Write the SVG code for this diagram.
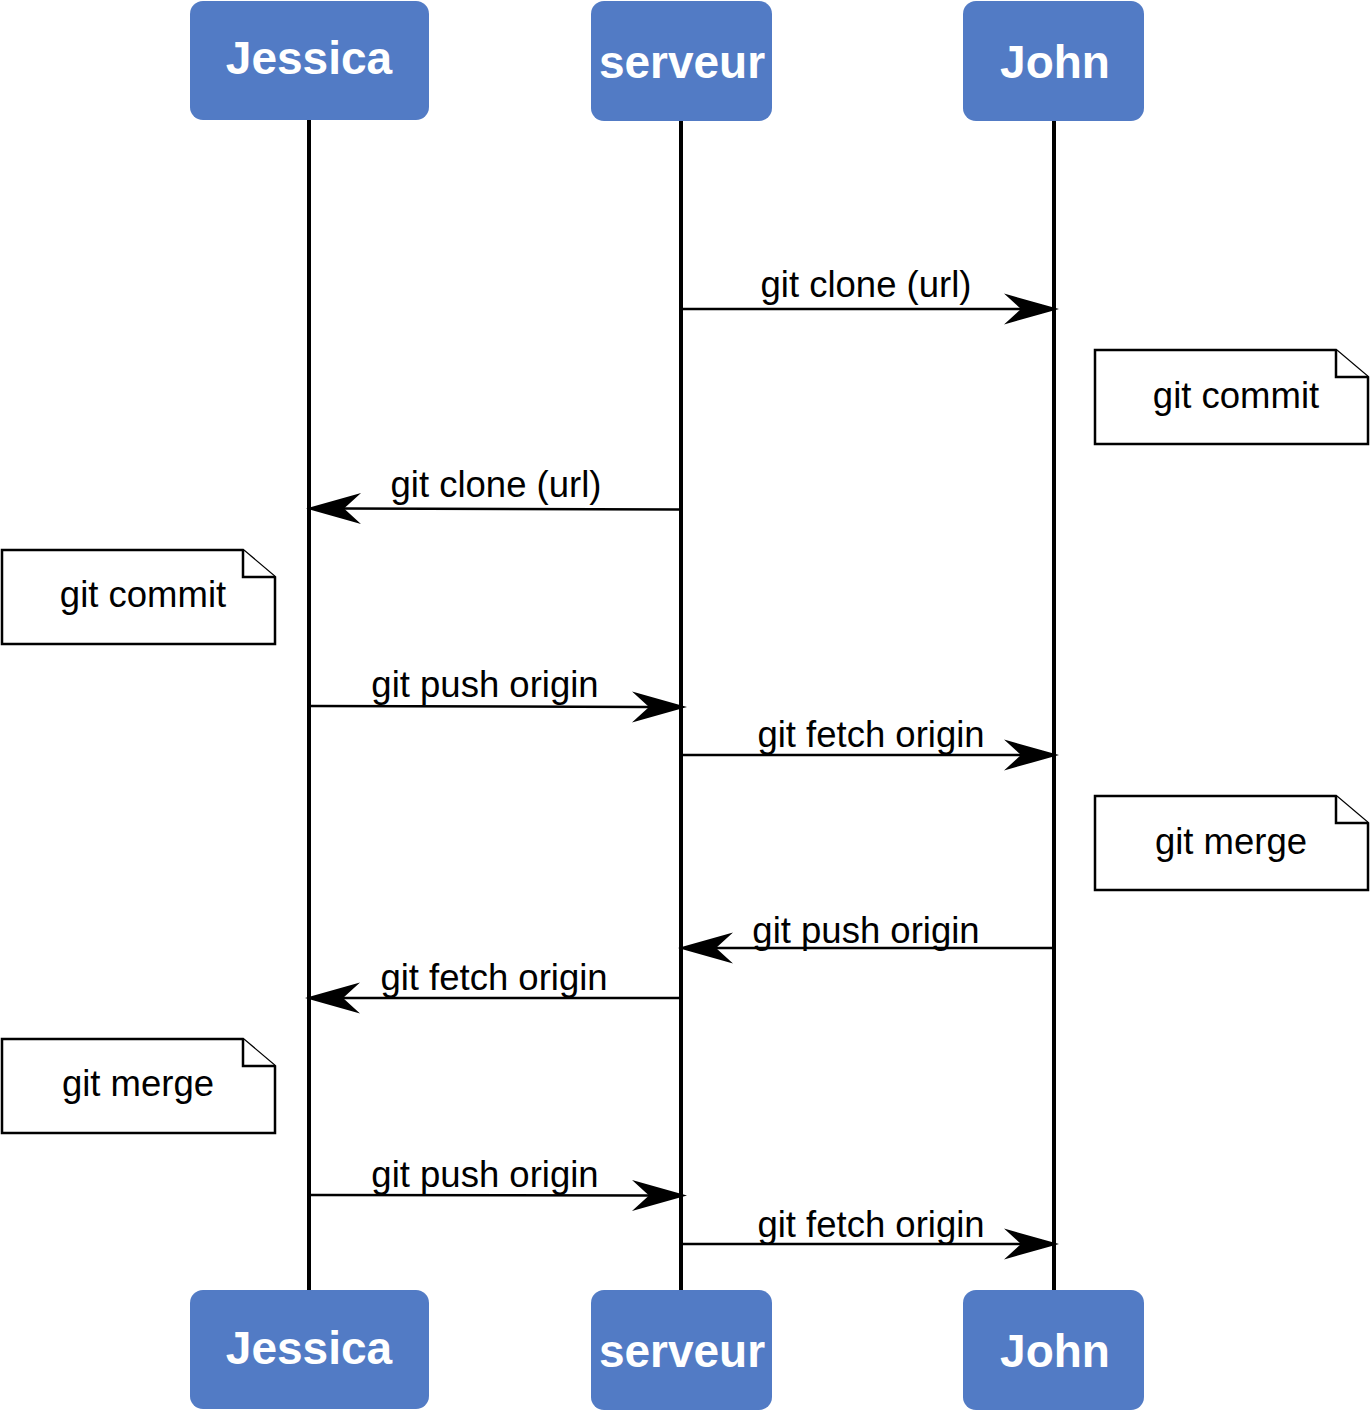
<svg xmlns="http://www.w3.org/2000/svg" width="1370" height="1410" viewBox="0 0 1370 1410">
<style>
.actor{fill:#527bc5;stroke:none}
.actor-t{font-family:"Liberation Sans",Arial,sans-serif;font-weight:bold;font-size:46px;fill:#fff;text-anchor:middle}
.life{stroke:#000;stroke-width:4;fill:none}
.msg{stroke:#000;stroke-width:2.5;fill:none;marker-end:url(#ah)}
.lbl{font-family:"Liberation Sans",Arial,sans-serif;font-size:36.5px;fill:#000;text-anchor:middle}
.note{fill:#fff;stroke:#000;stroke-width:2.5;stroke-linejoin:miter}
</style>
<defs>
<marker id="ah" markerUnits="userSpaceOnUse" orient="auto" refX="17" refY="0" markerWidth="56" markerHeight="32" overflow="visible">
<path d="M0,-15.5 L55,0 L0,15.5 L17,0 Z" fill="#000"/>
</marker>
</defs>
<rect width="1370" height="1410" fill="#fff"/>
<g id="lifelines">
<line class="life" x1="309" y1="120" x2="309" y2="1290"/>
<line class="life" x1="681" y1="120" x2="681" y2="1290"/>
<line class="life" x1="1054" y1="120" x2="1054" y2="1290"/>
</g>
<g id="jessica-top"><rect class="actor" x="190" y="1" width="239" height="119" rx="13"/><text class="actor-t" x="309" y="74">Jessica</text></g>
<g id="serveur-top"><rect class="actor" x="591" y="1" width="181" height="120" rx="13"/><text class="actor-t" x="682" y="78">serveur</text></g>
<g id="john-top"><rect class="actor" x="963" y="1" width="181" height="120" rx="13"/><text class="actor-t" x="1055" y="78">John</text></g>
<g id="jessica-bottom"><rect class="actor" x="190" y="1290" width="239" height="119" rx="13"/><text class="actor-t" x="309" y="1364">Jessica</text></g>
<g id="serveur-bottom"><rect class="actor" x="591" y="1290" width="181" height="120" rx="13"/><text class="actor-t" x="682" y="1367">serveur</text></g>
<g id="john-bottom"><rect class="actor" x="963" y="1290" width="181" height="120" rx="13"/><text class="actor-t" x="1055" y="1367">John</text></g>
<g id="note-john-commit">
<path class="note" d="M1095,350 H1336 L1368,377 V444 H1095 Z"/>
<path class="note" d="M1336,350 V377 H1368"/>
<text class="lbl" x="1236" y="408">git commit</text>
</g>
<g id="note-jessica-commit">
<path class="note" d="M2,550 H243 L275,577 V644 H2 Z"/>
<path class="note" d="M243,550 V577 H275"/>
<text class="lbl" x="143" y="607">git commit</text>
</g>
<g id="note-john-merge">
<path class="note" d="M1095,796 H1336 L1368,823 V890 H1095 Z"/>
<path class="note" d="M1336,796 V823 H1368"/>
<text class="lbl" x="1231" y="854">git merge</text>
</g>
<g id="note-jessica-merge">
<path class="note" d="M2,1039 H243 L275,1066 V1133 H2 Z"/>
<path class="note" d="M243,1039 V1066 H275"/>
<text class="lbl" x="138" y="1096">git merge</text>
</g>
<g id="connectors">
<line class="msg" x1="683" y1="309" x2="1021" y2="309"/>
<line class="msg" x1="681" y1="509.5" x2="344" y2="508.5"/>
<line class="msg" x1="311" y1="706" x2="649" y2="707"/>
<line class="msg" x1="683" y1="755" x2="1021" y2="755"/>
<line class="msg" x1="1052" y1="948" x2="716" y2="948"/>
<line class="msg" x1="681" y1="998" x2="343" y2="998"/>
<line class="msg" x1="311" y1="1195" x2="649" y2="1195.5"/>
<line class="msg" x1="683" y1="1244" x2="1021" y2="1244"/>
</g>
<g id="labels">
<text class="lbl" x="866" y="297">git clone (url)</text>
<text class="lbl" x="496" y="497">git clone (url)</text>
<text class="lbl" x="485" y="697">git push origin</text>
<text class="lbl" x="871" y="747">git fetch origin</text>
<text class="lbl" x="866" y="943">git push origin</text>
<text class="lbl" x="494" y="990">git fetch origin</text>
<text class="lbl" x="485" y="1187">git push origin</text>
<text class="lbl" x="871" y="1237">git fetch origin</text>
</g>
</svg>
